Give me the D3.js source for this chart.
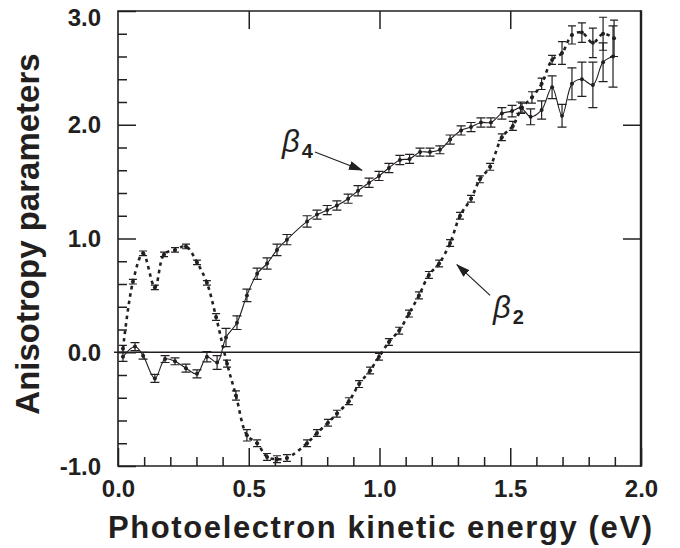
<!DOCTYPE html>
<html>
<head>
<meta charset="utf-8">
<script src="https://cdn.jsdelivr.net/npm/d3@7"></script>
<style>
body { margin: 0; background: #fff; }
text { font-family: "Liberation Sans", Arial, sans-serif; fill: #231f20; }
</style>
</head>
<body>
<script>
var w = 680;
var h = 548;

// beta2 (dotted curve)
var b2Energy = [0.019,0.057,0.096,0.141,0.176,0.218,0.26,0.302,0.34,0.375,
                0.417,0.451,0.493,0.532,0.57,0.608,0.646,0.723,0.761,0.803,
                0.837,0.883,0.922,0.964,0.998,1.036,1.075,1.113,1.151,1.189,
                1.228,1.27,1.308,1.35,1.384,1.423,1.468,1.51,1.545,1.583,
                1.62,1.66,1.698,1.736,1.774,1.816,1.855,1.897];
var b2Value = [0.03,0.62,0.87,0.57,0.86,0.90,0.93,0.79,0.61,0.31,
               -0.10,-0.38,-0.73,-0.80,-0.92,-0.94,-0.93,-0.80,-0.71,-0.62,
               -0.54,-0.43,-0.28,-0.16,-0.04,0.09,0.19,0.34,0.50,0.68,
               0.78,0.96,1.20,1.35,1.52,1.63,1.89,1.99,2.15,2.24,
               2.36,2.57,2.63,2.79,2.81,2.72,2.80,2.76];
var b2Error = [0.03,0.02,0.02,0.02,0.02,0.02,0.02,0.02,0.02,0.03,
               0.03,0.04,0.05,0.03,0.03,0.03,0.03,0.03,0.03,0.03,
               0.03,0.03,0.03,0.03,0.03,0.03,0.03,0.03,0.03,0.03,
               0.03,0.03,0.03,0.03,0.03,0.03,0.03,0.04,0.04,0.05,
               0.05,0.04,0.10,0.08,0.085,0.13,0.145,0.16];

// beta4 (solid curve)
var b4Energy = [0.019,0.065,0.096,0.141,0.18,0.218,0.26,0.302,0.34,0.379,
                0.413,0.455,0.493,0.532,0.57,0.608,0.646,0.723,0.761,0.80,
                0.837,0.88,0.918,0.96,0.998,1.036,1.078,1.115,1.155,1.193,
                1.231,1.27,1.312,1.35,1.388,1.426,1.468,1.507,1.54,1.578,
                1.62,1.66,1.698,1.736,1.774,1.816,1.855,1.893];
var b4Value = [-0.04,0.05,-0.03,-0.23,-0.06,-0.08,-0.14,-0.19,-0.04,-0.09,
               0.13,0.26,0.50,0.69,0.78,0.90,0.99,1.15,1.21,1.25,
               1.29,1.35,1.42,1.49,1.55,1.62,1.69,1.70,1.76,1.76,
               1.78,1.87,1.95,1.98,2.02,2.02,2.10,2.12,2.15,2.07,
               2.13,2.33,2.08,2.36,2.40,2.35,2.55,2.60];
var b4Error = [0.04,0.035,0.03,0.035,0.03,0.03,0.035,0.035,0.045,0.06,
               0.08,0.06,0.055,0.05,0.05,0.05,0.045,0.05,0.04,0.04,
               0.04,0.04,0.045,0.04,0.04,0.04,0.04,0.04,0.035,0.035,
               0.035,0.04,0.04,0.04,0.04,0.04,0.05,0.05,0.05,0.07,
               0.08,0.10,0.10,0.14,0.15,0.20,0.17,0.27];

var xTicks = [0, 0.5, 1.0, 1.5, 2.0];
var yTicks = [-1, 0, 1, 2, 3];

var margin = {left: 118, top: 11, right: 39, bottom: 82};

var x = d3.scaleLinear().domain([0, 2]).range([margin.left, w - margin.right]);
var y = d3.scaleLinear().domain([-1, 3]).range([h - margin.bottom, margin.top]);

var svg = d3.select("body")
            .append("svg")
            .attr("width", w)
            .attr("height", h);

var ink = "#231f20";
var fmt = function(d) { return d3.format(".1f")(d).replace("\u2212", "-"); };

//arrow head
svg.append("defs").append("marker")
   .attr("id", "head")
   .attr("markerUnits", "userSpaceOnUse")
   .attr("viewBox", "0 -5 14 10")
   .attr("refX", 13)
   .attr("refY", 0)
   .attr("markerWidth", 14)
   .attr("markerHeight", 10)
   .attr("orient", "auto")
   .append("path")
   .attr("d", "M0,-4.5L14,0L0,4.5Z")
   .style("fill", ink);

//zero line
svg.append("line")
   .attr("x1", x(0) - 4).attr("x2", x(2))
   .attr("y1", y(0)).attr("y2", y(0))
   .style("stroke", ink).style("stroke-width", 1.3);

//axes with inward ticks
function styleAxis(g) {
  g.select(".domain").remove();
  g.selectAll(".tick line").style("stroke", ink).style("stroke-width", 1.5);
  g.selectAll(".tick text")
   .style("font-size", "24px").style("font-weight", "bold")
   .style("fill", ink).attr("font-family", null);
}

var minorX = d3.range(1, 20).map(function(i) { return i / 10; })
               .filter(function(v) { return Math.abs(v * 2 - Math.round(v * 2)) > 1e-6; });
var minorY = d3.range(-4, 15).map(function(i) { return i / 5; })
               .filter(function(v) { return Math.abs(v - Math.round(v)) > 1e-6; });

svg.append("g").attr("transform", "translate(0," + y(-1) + ")")
   .call(d3.axisBottom(x).tickValues(minorX).tickSize(-9).tickFormat(""))
   .call(styleAxis);
svg.append("g").attr("transform", "translate(0," + y(-1) + ")")
   .call(d3.axisBottom(x).tickValues(xTicks).tickSize(-18).tickPadding(14)
           .tickFormat(fmt))
   .call(styleAxis);

svg.append("g").attr("transform", "translate(" + x(0) + ",0)")
   .call(d3.axisLeft(y).tickValues(minorY).tickSize(-9).tickFormat(""))
   .call(styleAxis);
svg.append("g").attr("transform", "translate(" + x(0) + ",0)")
   .call(d3.axisLeft(y).tickValues(yTicks).tickSize(-18).tickPadding(17)
           .tickFormat(fmt))
   .call(styleAxis)
   .selectAll(".tick text")
   .attr("dy", function(d) { return d === 3 ? "0.62em" : "0.34em"; });

svg.append("g").attr("transform", "translate(0," + y(3) + ")")
   .call(d3.axisTop(x).tickValues([0.5, 1, 1.5]).tickSize(-18).tickFormat(""))
   .call(styleAxis);
svg.append("g").attr("transform", "translate(" + x(2) + ",0)")
   .call(d3.axisRight(y).tickValues([1, 2]).tickSize(-18).tickFormat(""))
   .call(styleAxis);

//frame
svg.append("path")
   .attr("d", "M" + x(2) + "," + y(3) + "H" + x(0) + "V" + y(-1) + "H" + x(2))
   .style("fill", "none").style("stroke", ink).style("stroke-width", 1.6);
svg.append("line")
   .attr("x1", x(2)).attr("x2", x(2)).attr("y1", y(3) - 0.8).attr("y2", y(-1) + 0.8)
   .style("stroke", ink).style("stroke-width", 2.4);

//series
function series(en, val, err) {
  return en.map(function(e, i) { return {e: e, v: val[i], s: err[i]}; });
}
var b2 = series(b2Energy, b2Value, b2Error);
var b4 = series(b4Energy, b4Value, b4Error);

var line = d3.line()
             .x(function(d) { return x(d.e); })
             .y(function(d) { return y(d.v); })
             .curve(d3.curveCatmullRom.alpha(0.5));

svg.append("path").datum(b4)
   .attr("d", line)
   .style("fill", "none").style("stroke", ink).style("stroke-width", 1.1);

svg.append("path").datum(b2)
   .attr("d", line)
   .style("fill", "none").style("stroke", ink).style("stroke-width", 2.6)
   .style("stroke-dasharray", "3.5,4");

function errorBars(data, cap) {
  var g = svg.append("g").style("stroke", ink).style("stroke-width", 1.2);
  g.selectAll(".bar").data(data).enter().append("path")
   .attr("d", function(d) {
     var cx = x(d.e), t = y(d.v + d.s), b = y(d.v - d.s);
     return "M" + cx + "," + t + "V" + b +
            "M" + (cx - cap) + "," + t + "H" + (cx + cap) +
            "M" + (cx - cap) + "," + b + "H" + (cx + cap);
   })
   .style("fill", "none");
  svg.append("g").selectAll("circle").data(data).enter().append("circle")
     .attr("cx", function(d) { return x(d.e); })
     .attr("cy", function(d) { return y(d.v); })
     .attr("r", 2)
     .style("fill", ink);
}
errorBars(b4, 4.5);
errorBars(b2, 4);

//labels
function betaLabel(e, v, sub) {
  var t = svg.append("text")
             .attr("x", x(e)).attr("y", y(v));
  t.append("tspan").text("\u03b2")
   .style("font-style", "italic").style("font-size", "31px");
  t.append("tspan").text(sub).attr("dy", 6).attr("dx", 2)
   .style("font-weight", "bold").style("font-size", "20px");
}
betaLabel(0.627, 1.76, "4");
betaLabel(1.434, 0.30, "2");

function arrow(e1, v1, e2, v2) {
  svg.append("line")
     .attr("x1", x(e1)).attr("y1", y(v1))
     .attr("x2", x(e2)).attr("y2", y(v2))
     .style("stroke", ink).style("stroke-width", 1.2)
     .attr("marker-end", "url(#head)");
}
arrow(0.753, 1.76, 0.933, 1.60);
arrow(1.423, 0.50, 1.296, 0.77);

//axis titles
svg.append("text")
   .attr("x", 380).attr("y", 538)
   .attr("text-anchor", "middle")
   .attr("textLength", 544)
   .style("font-size", "31px").style("font-weight", "bold")
   .text("Photoelectron kinetic energy (eV)");

svg.append("text")
   .attr("transform", "translate(39," + 234 + ") rotate(-90)")
   .attr("text-anchor", "middle")
   .style("font-size", "33px").style("font-weight", "bold")
   .text("Anisotropy parameters");
</script>
</body>
</html>
